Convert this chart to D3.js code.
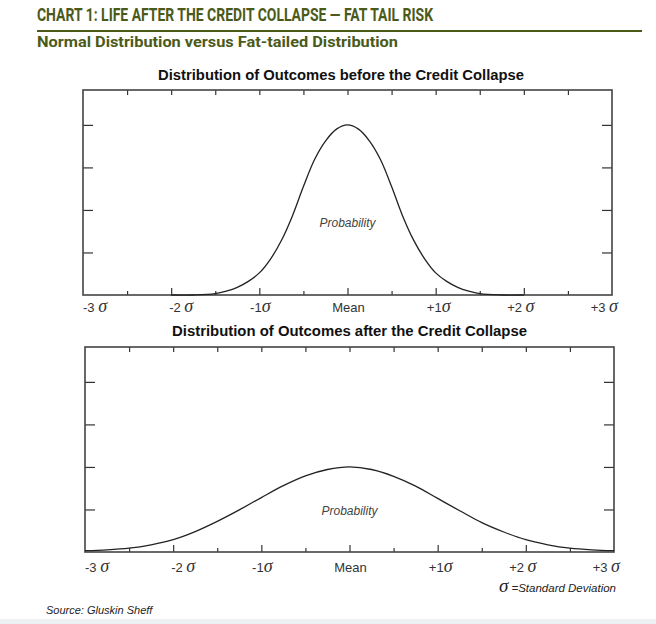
<!DOCTYPE html>
<html>
<head>
<meta charset="utf-8">
<script src="https://cdn.jsdelivr.net/npm/d3@7"></script>
<style>
  body { margin: 0; background: #fff; }
  .head { font-family: Roboto, "Liberation Sans", sans-serif; font-weight: bold; fill: #4b5a19; }
  .ptitle { font-family: "Liberation Sans", Arial, sans-serif; font-weight: bold; fill: #111; }
  .tlab { font-family: "Liberation Sans", Arial, sans-serif; font-size: 13px; fill: #333; }
  .sig { font-family: "Liberation Serif", "DejaVu Serif", serif; font-style: italic; font-size: 18px; }
  .prob { font-family: "Liberation Sans", Arial, sans-serif; font-style: italic; font-size: 12px; fill: #444; }
  .note { font-family: "Liberation Sans", Arial, sans-serif; font-style: italic; font-size: 11.5px; fill: #222; }
</style>
</head>
<body>
<div id="chart"></div>
<script>
// x axis in standard deviations
var xTicks = [-3, -2.5, -2, -1.5, -1, -0.5, 0, 0.5, 1, 1.5, 2, 2.5, 3];
var xMajor = [-2, -1, 0, 1, 2];
var xMinor = [-2.5, -1.5, -0.5, 0.5, 1.5, 2.5];
var xLabels = ["-3 σ", "-2 σ", "-1σ", "Mean", "+1σ", "+2 σ", "+3 σ"];
var xLabelAt = [-3, -2, -1, 0, 1, 2, 3];
var yTicks = [1, 2, 3, 4];

// normal distribution
var beforeX = [-2, -1.75, -1.5, -1.375, -1.25, -1.125, -1, -0.875, -0.75, -0.625, -0.5, -0.375, -0.25, -0.125, 0,
               0.125, 0.25, 0.375, 0.5, 0.625, 0.75, 0.875, 1, 1.125, 1.25, 1.375, 1.5, 1.75, 2];
var beforeY = [0, 0, 0.03, 0.09, 0.18, 0.32, 0.52, 0.84, 1.28, 1.86, 2.55, 3.18, 3.62, 3.9, 4.0,
               3.9, 3.62, 3.18, 2.55, 1.86, 1.29, 0.85, 0.52, 0.32, 0.18, 0.09, 0.03, 0, 0];

// fat-tailed distribution
var afterX = [-3, -2.75, -2.5, -2.25, -2, -1.75, -1.5, -1.25, -1, -0.75, -0.5, -0.25, 0,
              0.25, 0.5, 0.75, 1, 1.25, 1.5, 1.75, 2, 2.25, 2.5, 2.75, 3];
var afterY = [0.03, 0.05, 0.09, 0.17, 0.29, 0.48, 0.72, 0.99, 1.28, 1.56, 1.79, 1.94, 2.0,
              1.94, 1.78, 1.55, 1.26, 0.97, 0.69, 0.47, 0.29, 0.17, 0.09, 0.05, 0.03];

var yMax = 4.82;

var panels = [
  {title: "Distribution of Outcomes before the Credit Collapse", titleY: 80, titleX0: 158, titleW: 366,
   left: 83, top: 90, xs: beforeX, ys: beforeY, probY: 1.6, labY: 312},
  {title: "Distribution of Outcomes after the Credit Collapse", titleY: 336, titleX0: 172, titleW: 355,
   left: 85, top: 347, xs: afterX, ys: afterY, probY: 0.87, labY: 572}
];
var pw = 529, ph = 205;

var svg = d3.select("#chart").append("svg").attr("width", 656).attr("height", 624);

svg.append("rect").attr("x", 0).attr("y", 619).attr("width", 656).attr("height", 5).attr("fill", "#edf1f4");

svg.append("text").attr("class", "head").attr("x", 37).attr("y", 21).style("font-size", "17.5px")
   .attr("textLength", 396).attr("lengthAdjust", "spacingAndGlyphs")
   .text("CHART 1: LIFE AFTER THE CREDIT COLLAPSE \u2014 FAT TAIL RISK");
svg.append("line").attr("x1", 37).attr("x2", 642).attr("y1", 31).attr("y2", 31)
   .attr("stroke", "#4b5a19").attr("stroke-width", 2);
svg.append("text").attr("class", "head").attr("x", 37).attr("y", 47).style("font-size", "14.5px")
   .attr("textLength", 361).attr("lengthAdjust", "spacingAndGlyphs")
   .text("Normal Distribution versus Fat-tailed Distribution");

var anchors = ["start", "start", "middle", "middle", "middle", "middle", "end"];
var nudges = [0, -2, 1, 1, 3, -3, 6];

panels.forEach(function(p) {
  var x = d3.scaleLinear().domain([-3, 3]).range([p.left, p.left + pw]);
  var y = d3.scaleLinear().domain([0, yMax]).range([p.top + ph, p.top]);
  var g = svg.append("g");

  g.append("text").attr("class", "ptitle").attr("x", p.titleX0).attr("y", p.titleY)
   .attr("textLength", p.titleW).attr("lengthAdjust", "spacingAndGlyphs")
   .style("font-size", "14.5px").text(p.title);

  function tidy(sel) {
    sel.select(".domain").remove();
    sel.selectAll(".tick line").attr("stroke", "#333").attr("stroke-width", 1.2);
  }

  // ticks along the top edge, pointing in
  g.append("g").attr("transform", "translate(0," + y(yMax) + ")")
   .call(d3.axisBottom(x).tickValues(xTicks.slice(1, -1)).tickSize(5).tickFormat(""))
   .call(tidy);
  // ticks along the baseline, pointing up
  g.append("g").attr("transform", "translate(0," + y(0) + ")")
   .call(d3.axisTop(x).tickValues(xMajor).tickSize(7).tickFormat(""))
   .call(tidy);
  g.append("g").attr("transform", "translate(0," + y(0) + ")")
   .call(d3.axisTop(x).tickValues(xMinor).tickSize(4).tickFormat(""))
   .call(tidy);
  // left and right ticks
  g.append("g").attr("transform", "translate(" + x(-3) + ",0)")
   .call(d3.axisRight(y).tickValues(yTicks).tickSize(10).tickFormat(""))
   .call(tidy);
  g.append("g").attr("transform", "translate(" + x(3) + ",0)")
   .call(d3.axisLeft(y).tickValues(yTicks).tickSize(10).tickFormat(""))
   .call(tidy);

  g.append("rect").attr("x", x(-3)).attr("y", y(yMax))
   .attr("width", x(3) - x(-3)).attr("height", y(0) - y(yMax))
   .attr("fill", "none").attr("stroke", "#444").attr("stroke-width", 1.6);

  var line = d3.line().x(function(d, i) { return x(p.xs[i]); }).y(function(d) { return y(d); })
               .curve(d3.curveCatmullRom.alpha(0.5));
  g.append("path").datum(p.ys).attr("d", line)
   .attr("fill", "none").attr("stroke", "#222").attr("stroke-width", 1.3);

  g.append("text").attr("class", "prob").attr("x", x(0)).attr("y", y(p.probY))
   .attr("text-anchor", "middle").text("Probability");

  xLabels.forEach(function(lab, i) {
    var t = g.append("text").attr("class", "tlab")
      .attr("x", x(xLabelAt[i]) + nudges[i]).attr("y", p.labY)
      .attr("text-anchor", anchors[i]);
    var parts = lab.split("σ");
    t.append("tspan").text(parts[0]);
    if (parts.length > 1) t.append("tspan").attr("class", "sig").text("σ");
  });
});

// legend note and source
var n = svg.append("text").attr("class", "note").attr("x", 616).attr("y", 592).attr("text-anchor", "end");
n.append("tspan").attr("class", "sig").style("font-size", "19px").text("σ");
n.append("tspan").text(" =Standard Deviation");

svg.append("text").attr("class", "note").attr("x", 46).attr("y", 614).style("font-size", "11px")
   .text("Source: Gluskin Sheff");
</script>
</body>
</html>
